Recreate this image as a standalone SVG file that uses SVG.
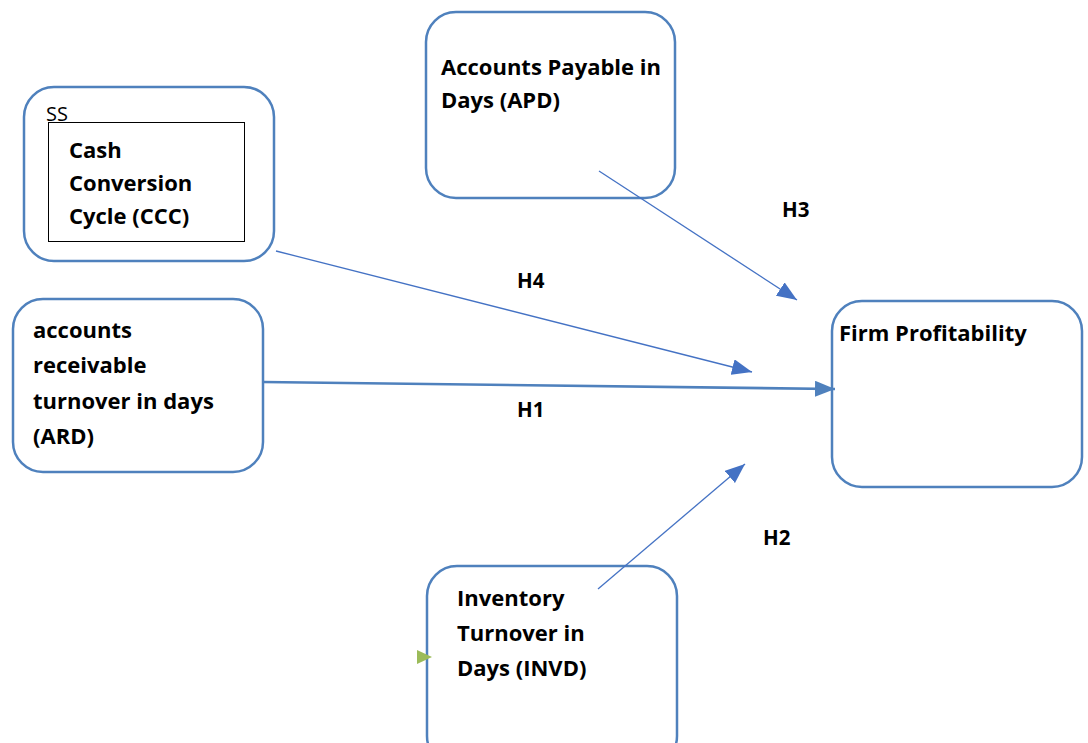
<svg xmlns="http://www.w3.org/2000/svg" width="1088" height="743" viewBox="0 0 1088 743">
  <style>
    .box { fill: #ffffff; stroke: #4f81bd; stroke-width: 2.5; }
    .lbl { font-family: "Open Sans", "Liberation Sans", sans-serif; font-weight: bold; font-size: 22px; fill: #000000; }
    .hyp { font-family: "Open Sans", "Liberation Sans", sans-serif; font-weight: bold; font-size: 20.5px; fill: #000000; }
    .thin { stroke: #4472c4; stroke-width: 1.3; fill: none; marker-end: url(#tip); }
    .thick { stroke: #4f81bd; stroke-width: 2.6; fill: none; marker-end: url(#tipThick); }
  </style>
  <defs>
    <marker id="tip" viewBox="0 0 20 16" refX="20" refY="8" markerWidth="20" markerHeight="16" markerUnits="userSpaceOnUse" orient="auto">
      <path d="M0,0 L20,8 L0,16 Z" fill="#4472c4"/>
    </marker>
    <marker id="tipThick" viewBox="0 0 20 16" refX="20" refY="8" markerWidth="20" markerHeight="16" markerUnits="userSpaceOnUse" orient="auto">
      <path d="M0,0 L20,8 L0,16 Z" fill="#4f81bd"/>
    </marker>
  </defs>
  <rect width="1088" height="743" fill="#ffffff"/>

  <!-- Cash Conversion Cycle -->
  <g id="node-ccc">
    <rect class="box" x="24" y="87" width="250" height="174" rx="30"/>
    <rect x="48.5" y="122.5" width="196" height="119" fill="#ffffff" stroke="#000000" stroke-width="1"/>
    <text x="46" y="121" font-family="'Open Sans', 'Liberation Sans', sans-serif" font-size="20" fill="#000000">SS</text>
    <text class="lbl" x="69" y="158">Cash</text>
    <text class="lbl" x="69" y="191">Conversion</text>
    <text class="lbl" x="69" y="224">Cycle (CCC)</text>
  </g>

  <!-- Accounts Payable in Days -->
  <g id="node-apd">
    <rect class="box" x="426" y="12" width="249" height="186" rx="30"/>
    <text class="lbl" x="441" y="75">Accounts Payable in</text>
    <text class="lbl" x="441" y="108">Days (APD)</text>
  </g>

  <!-- Accounts receivable turnover -->
  <g id="node-ard">
    <rect class="box" x="13" y="299" width="250" height="173" rx="30"/>
    <text class="lbl" x="33" y="338">accounts</text>
    <text class="lbl" x="33" y="373">receivable</text>
    <text class="lbl" x="33" y="409">turnover in days</text>
    <text class="lbl" x="33" y="444">(ARD)</text>
  </g>

  <!-- Firm Profitability -->
  <g id="node-firm">
    <rect class="box" x="832" y="301" width="250" height="186" rx="30"/>
    <text class="lbl" x="839" y="341">Firm Profitability</text>
  </g>

  <!-- Inventory Turnover in Days -->
  <g id="node-invd">
    <rect class="box" x="427" y="566" width="250" height="200" rx="30"/>
    <text class="lbl" x="457" y="606">Inventory</text>
    <text class="lbl" x="457" y="641">Turnover in</text>
    <text class="lbl" x="457" y="676">Days (INVD)</text>
    <path d="M417,650 L432,657 L417,664 Z" fill="#9bbb59"/>
  </g>

  <!-- connectors, drawn over the boxes -->
  <g id="connectors">
    <line class="thin" x1="599" y1="171" x2="797" y2="300"/>
    <line class="thin" x1="276" y1="251" x2="752" y2="372"/>
    <line class="thick" x1="263" y1="382" x2="835" y2="389"/>
    <line class="thin" x1="598" y1="589" x2="745" y2="464"/>
    <text class="hyp" x="782" y="217">H3</text>
    <text class="hyp" x="517" y="288">H4</text>
    <text class="hyp" x="517" y="417">H1</text>
    <text class="hyp" x="763" y="545">H2</text>
  </g>
</svg>
